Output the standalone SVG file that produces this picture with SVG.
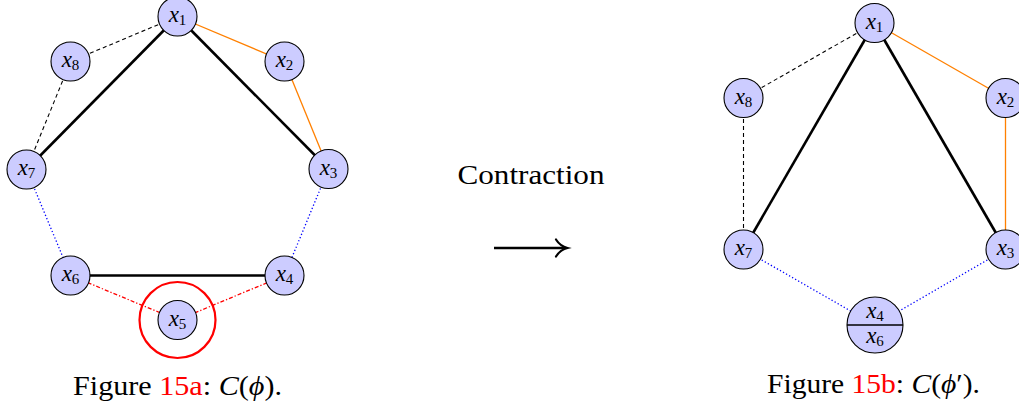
<svg xmlns="http://www.w3.org/2000/svg" width="1019" height="406" viewBox="0 0 1019 406">
<style>
.nd{fill:#ccccff;stroke:#000;stroke-width:1.1}
.lb{font-family:"Liberation Serif",serif;font-size:23px;font-style:italic;text-anchor:middle;fill:#000}
.sb{font-style:normal;font-size:15px}
.thick{stroke:#000;stroke-width:2.6;fill:none}
.dash{stroke:#000;stroke-width:1.1;stroke-dasharray:4 3;fill:none}
.org{stroke:#ff8000;stroke-width:1.3;fill:none}
.dot{stroke:#0000ff;stroke-width:1.3;stroke-dasharray:1.3 2.2;fill:none}
.dd{stroke:#ff0000;stroke-width:1.3;stroke-dasharray:4 2 1.3 2;fill:none}
.cap{font-family:"Liberation Serif",serif;font-size:28px;fill:#000}
.it{font-style:italic}
.red{fill:#ff0000}
</style>
<g id="connectors">
<line class="dash" x1="177.5" y1="16.5" x2="70.5" y2="61.5"/>
<line class="dash" x1="70.5" y1="61.5" x2="26.5" y2="169.5"/>
<line class="thick" x1="177.5" y1="16.5" x2="26.5" y2="169.5"/>
<line class="thick" x1="177.5" y1="16.5" x2="328.5" y2="169"/>
<line class="org" x1="177.5" y1="16.5" x2="284.5" y2="61.5"/>
<line class="org" x1="284.5" y1="61.5" x2="328.5" y2="169"/>
<line class="dot" x1="26.5" y1="169.5" x2="70.5" y2="275.5"/>
<line class="dot" x1="328.5" y1="169" x2="284.5" y2="275.5"/>
<line class="thick" x1="70.5" y1="275.5" x2="284.5" y2="275.5"/>
<line class="dd" x1="70.5" y1="275.5" x2="177.5" y2="320"/>
<line class="dd" x1="177.5" y1="320" x2="284.5" y2="275.5"/>
<line class="dash" x1="874.5" y1="23" x2="743.5" y2="98"/>
<line class="dash" x1="743.5" y1="98" x2="743.5" y2="249.5"/>
<line class="thick" x1="874.5" y1="23" x2="743.5" y2="249.5"/>
<line class="thick" x1="874.5" y1="23" x2="1005.5" y2="249.5"/>
<line class="org" x1="874.5" y1="23" x2="1005.5" y2="98"/>
<line class="org" x1="1005.5" y1="98" x2="1005.5" y2="249.5"/>
<line class="dot" x1="743.5" y1="249.5" x2="875" y2="325"/>
<line class="dot" x1="1005.5" y1="249.5" x2="875" y2="325"/>
</g>
<g id="L-x1"><circle class="nd" cx="177.5" cy="16.5" r="19.5"/><text class="lb" x="177.5" y="22">x<tspan class="sb" dy="3">1</tspan></text></g>
<g id="L-x2"><circle class="nd" cx="284.5" cy="61.5" r="19.5"/><text class="lb" x="284.5" y="67">x<tspan class="sb" dy="3">2</tspan></text></g>
<g id="L-x3"><circle class="nd" cx="328.5" cy="169" r="19.5"/><text class="lb" x="328.5" y="174.5">x<tspan class="sb" dy="3">3</tspan></text></g>
<g id="L-x4"><circle class="nd" cx="284.5" cy="275.5" r="19.5"/><text class="lb" x="284.5" y="281">x<tspan class="sb" dy="3">4</tspan></text></g>
<g id="L-x5"><circle cx="177.5" cy="320" r="38" fill="none" stroke="#ff0000" stroke-width="2.2"/><circle class="nd" cx="177.5" cy="320" r="19.5"/><text class="lb" x="177.5" y="325.5">x<tspan class="sb" dy="3">5</tspan></text></g>
<g id="L-x6"><circle class="nd" cx="70.5" cy="275.5" r="19.5"/><text class="lb" x="70.5" y="281">x<tspan class="sb" dy="3">6</tspan></text></g>
<g id="L-x7"><circle class="nd" cx="26.5" cy="169.5" r="19.5"/><text class="lb" x="26.5" y="175">x<tspan class="sb" dy="3">7</tspan></text></g>
<g id="L-x8"><circle class="nd" cx="70.5" cy="61.5" r="19.5"/><text class="lb" x="70.5" y="67">x<tspan class="sb" dy="3">8</tspan></text></g>
<g id="R-x1"><circle class="nd" cx="874.5" cy="23" r="19.5"/><text class="lb" x="874.5" y="28.5">x<tspan class="sb" dy="3">1</tspan></text></g>
<g id="R-x2"><circle class="nd" cx="1005.5" cy="98" r="19.5"/><text class="lb" x="1005.5" y="103.5">x<tspan class="sb" dy="3">2</tspan></text></g>
<g id="R-x3"><circle class="nd" cx="1005.5" cy="249.5" r="19.5"/><text class="lb" x="1005.5" y="255">x<tspan class="sb" dy="3">3</tspan></text></g>
<g id="R-x46"><circle class="nd" cx="875" cy="325" r="28"/><line x1="847" y1="325" x2="903" y2="325" stroke="#000" stroke-width="1.3"/><text class="lb" x="875" y="318">x<tspan class="sb" dy="3">4</tspan></text><text class="lb" x="875" y="343">x<tspan class="sb" dy="3">6</tspan></text></g>
<g id="R-x7"><circle class="nd" cx="743.5" cy="249.5" r="19.5"/><text class="lb" x="743.5" y="255">x<tspan class="sb" dy="3">7</tspan></text></g>
<g id="R-x8"><circle class="nd" cx="743.5" cy="98" r="19.5"/><text class="lb" x="743.5" y="103.5">x<tspan class="sb" dy="3">8</tspan></text></g>
<g id="contraction">
<text class="cap" x="531" y="184" text-anchor="middle" font-size="29" textLength="147" lengthAdjust="spacingAndGlyphs">Contraction</text>
<line x1="494" y1="248" x2="565" y2="248" stroke="#000" stroke-width="2.4"/>
<path d="M556,239.5 Q560,246 567.5,248 Q560,250 556,256.5" fill="none" stroke="#000" stroke-width="2.2" stroke-linecap="round"/>
</g>
<g id="captions">
<text class="cap" x="177.5" y="395" text-anchor="middle" textLength="209" lengthAdjust="spacingAndGlyphs">Figure <tspan class="red">15a</tspan>: <tspan class="it">C</tspan>(<tspan class="it">ϕ</tspan>).</text>
<text class="cap" x="873.5" y="393" text-anchor="middle" textLength="213" lengthAdjust="spacingAndGlyphs">Figure <tspan class="red">15b</tspan>: <tspan class="it">C</tspan>(<tspan class="it">ϕ</tspan>′).</text>
</g>
</svg>
